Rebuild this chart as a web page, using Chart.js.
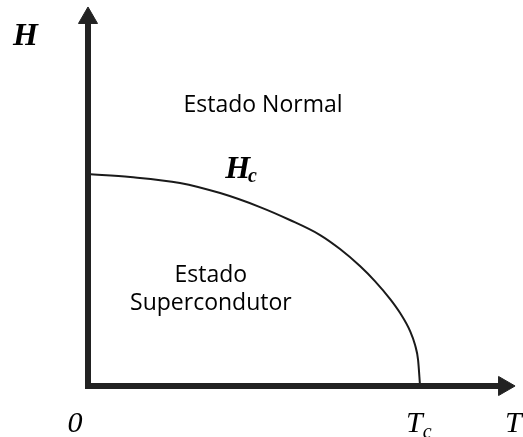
<!DOCTYPE html>
<html>
<head>
<meta charset="utf-8">
<script src="https://cdn.jsdelivr.net/npm/chart.js@4/dist/chart.umd.min.js"></script>
<style>
  html, body { margin: 0; padding: 0; background: #ffffff; }
  #wrap { width: 523px; height: 437px; }
</style>
</head>
<body>
<div id="wrap"><canvas id="c" width="523" height="437"></canvas></div>
<script>
// Critical field Hc(T), normalised: T / Tc and H / H0
const tempValues  = [0, 0.127, 0.277, 0.398, 0.518, 0.608, 0.699, 0.759, 0.819, 0.864, 0.910, 0.940, 0.970, 0.985, 0.994, 1.0];
const fieldValues = [1.0, 0.986, 0.958, 0.910, 0.844, 0.783, 0.712, 0.646, 0.566, 0.495, 0.410, 0.344, 0.259, 0.193, 0.123, 0];

// Axis extents (arrow ends) in the same units
const tAxisEnd = 1.253;
const hAxisEnd = 1.736;

// Texts
const axisLabelH = 'H';
const axisLabelT = 'T';
const originLabel = '0';
const criticalFieldLabel = ['H', 'c'];
const criticalTempLabel = ['T', 'c'];
const normalLabel = 'Estado Normal';
const superLabel = ['Estado', 'Supercondutor'];

const ink = '#222222';

const curve = tempValues.map((t, i) => ({ x: t, y: fieldValues[i] }));

// Fonts
const serifBoldItalic = 'bold italic 32px "Liberation Serif", "DejaVu Serif", serif';
const serifItalic = 'italic 30px "Liberation Serif", "DejaVu Serif", serif';
const subBoldItalic = 'bold italic 20px "Liberation Serif", serif';
const subItalic = 'italic 20px "Liberation Serif", serif';
const sansFont = '23px "Open Sans", "Noto Sans", sans-serif';

const textPlugin = {
  id: 'diagramText',
  afterDatasetsDraw(chart) {
    const { ctx, scales: { x, y } } = chart;
    const px = v => x.getPixelForValue(v);
    const py = v => y.getPixelForValue(v);
    ctx.save();
    ctx.fillStyle = '#000000';
    ctx.textBaseline = 'alphabetic';

    // axis names
    ctx.font = serifBoldItalic;
    ctx.textAlign = 'left';
    ctx.fillText(axisLabelH, px(-0.226), py(1.608));

    ctx.font = serifItalic;
    ctx.fillText(axisLabelT, px(1.256), py(-0.217));
    ctx.textAlign = 'center';
    ctx.fillText(originLabel, px(-0.039), py(-0.217));

    // Tc on the temperature axis
    ctx.textAlign = 'left';
    ctx.fillText(criticalTempLabel[0], px(0.958), py(-0.217));
    const tw = ctx.measureText(criticalTempLabel[0]).width;
    ctx.font = subItalic;
    ctx.fillText(criticalTempLabel[1], px(0.958) + tw, py(-0.217) + 6);

    // Hc beside the curve
    ctx.font = serifBoldItalic;
    ctx.fillText(criticalFieldLabel[0], px(0.413), py(0.981));
    const hw = ctx.measureText(criticalFieldLabel[0]).width;
    ctx.font = subBoldItalic;
    ctx.fillText(criticalFieldLabel[1], px(0.413) + hw - 2, py(0.981) + 4);

    // region names
    ctx.font = sansFont;
    ctx.textAlign = 'center';
    ctx.fillText(normalLabel, px(0.527), py(1.292));
    ctx.fillText(superLabel[0], px(0.370), py(0.491));
    ctx.fillText(superLabel[1], px(0.370), py(0.358));
    ctx.restore();
  }
};

new Chart(document.getElementById('c'), {
  type: 'scatter',
  data: {
    datasets: [
      {
        label: 'Hc',
        data: curve,
        showLine: true,
        borderColor: '#1a1a1a',
        borderWidth: 2,
        pointRadius: 0,
        cubicInterpolationMode: 'monotone',
        order: 2
      },
      {
        label: 'T axis',
        data: [{ x: 0, y: 0 }, { x: tAxisEnd, y: 0 }],
        showLine: true,
        borderColor: ink,
        borderWidth: 6,
        borderCapStyle: 'square',
        pointStyle: 'triangle',
        rotation: 90,
        pointRadius: [0, 11],
        pointBackgroundColor: ink,
        pointBorderColor: ink,
        pointBorderWidth: 1,
        order: 1
      },
      {
        label: 'H axis',
        data: [{ x: 0, y: 0 }, { x: 0, y: hAxisEnd }],
        showLine: true,
        borderColor: ink,
        borderWidth: 6,
        borderCapStyle: 'square',
        pointStyle: 'triangle',
        rotation: 0,
        pointRadius: [0, 11],
        pointBackgroundColor: ink,
        pointBorderColor: ink,
        pointBorderWidth: 1,
        order: 1
      }
    ]
  },
  options: {
    responsive: false,
    animation: false,
    layout: { padding: 0, autoPadding: false },
    plugins: { legend: { display: false }, tooltip: { enabled: false } },
    elements: { point: { hoverRadius: 0 } },
    scales: {
      x: { type: 'linear', display: false, min: -0.265, max: 1.310 },
      y: { type: 'linear', display: false, min: -0.2406, max: 1.8208 }
    }
  },
  plugins: [textPlugin]
});
</script>
</body>
</html>
